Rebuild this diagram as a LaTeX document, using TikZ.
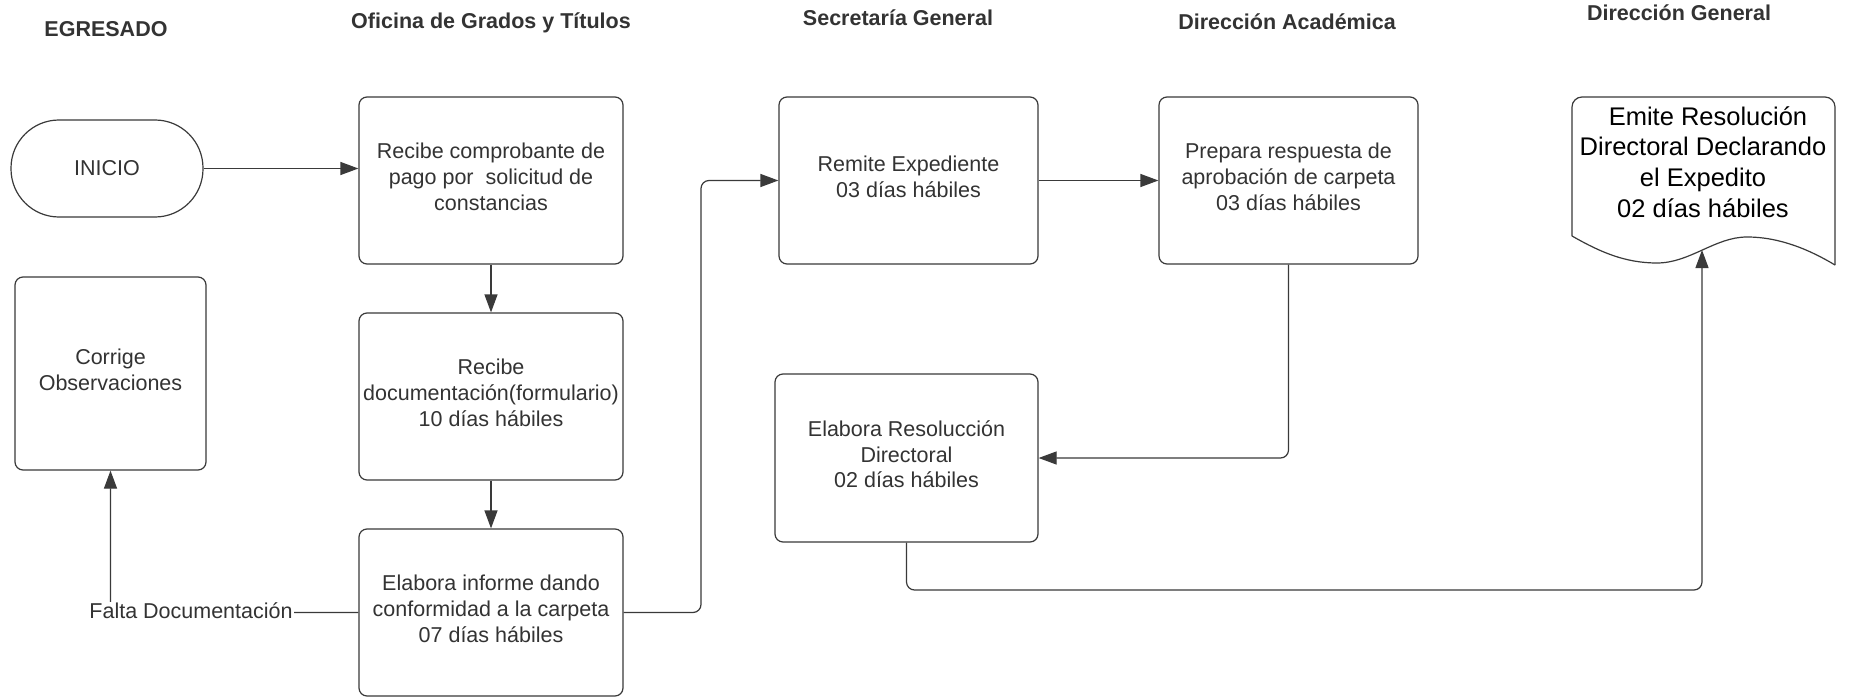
\documentclass[tikz,border=0pt]{standalone}
\usepackage{fontspec}
\setmainfont{Liberation Sans}
\usetikzlibrary{arrows.meta}
\definecolor{ink}{HTML}{333333}
\definecolor{edge}{HTML}{3A3A3A}
\begin{document}
\begin{tikzpicture}[x=1pt,y=-1pt,
  every node/.style={font=\fontsize{21.5}{25.8}\selectfont, text=ink},
  head/.style={anchor=base, font=\fontsize{21.5}{25.8}\selectfont\bfseries},
  proc/.style={draw=edge, line width=1.2pt, rounded corners=8pt, align=center, inner sep=0pt},
  procs/.style={proc, execute at end node=\strut},
  conn/.style={draw=edge, line width=1.2pt, rounded corners=8pt, -{Triangle[length=18pt,width=13pt]}},
  plain/.style={draw=edge, line width=1.2pt}
]
\useasboundingbox[fill=white] (0,0) rectangle (1850,698);

% headings
\node[head] (h1) at (106,37) {EGRESADO};
\node[head] (h2) at (491,29) {Oficina de Grados y Títulos};
\node[head] (h3) at (898,26) {Secretaría General};
\node[head] (h4) at (1287,30) {Dirección Académica};
\node[head] (h5) at (1679,21) {Dirección General};

% nodes
\node[proc, rounded corners=48pt, minimum width=192pt, minimum height=97pt] (inicio) at (107,168.5) {INICIO};
\node[procs, minimum width=264pt, minimum height=167pt] (box1) at (491,180.5) {Recibe comprobante de\\pago por\ \ solicitud de\\constancias};
\node[procs, minimum width=264pt, minimum height=167pt] (box2) at (491,396.5) {Recibe\\documentación(formulario)\\10 días hábiles};
\node[procs, minimum width=264pt, minimum height=167pt] (box3) at (491,612.5) {Elabora informe dando\\conformidad a la carpeta\\07 días hábiles};
\node[procs, minimum width=191pt, minimum height=193pt] (corrige) at (110.5,373.5) {Corrige\\Observaciones};
\node[procs, minimum width=259pt, minimum height=167pt] (remite) at (908.5,180.5) {Remite Expediente\\03 días hábiles};
\node[procs, minimum width=259pt, minimum height=167pt] (prepara) at (1288.5,180.5) {Prepara respuesta de\\aprobación de carpeta\\03 días hábiles};
\node[procs, minimum width=263pt, minimum height=168pt] (elabora) at (906.5,458) {Elabora Resolucción\\Directoral\\02 días hábiles};

% document shape
\draw[plain, rounded corners=10pt] (1572,236) -- (1572,97) -- (1835,97) -- (1835,265);
\draw[plain] (1572,236) .. controls (1600,252) and (1625,263) .. (1657,263)
  .. controls (1690,263) and (1715,237) .. (1747,237)
  .. controls (1780,237) and (1810,250) .. (1835,265);
\node[align=center, text=black, font=\fontsize{25.5}{30.6}\selectfont] (doc) at (1703,162) {\hspace*{10pt}Emite Resolución\\Directoral Declarando\\el Expedito\\02 días hábiles};

% junction coordinates
\coordinate (j1) at (701,612.5);
\coordinate (docin) at (1702,250);
\coordinate (bot) at (1702,590);

% connectors
\draw[conn] (inicio.east) -- (inicio.east -| box1.west);
\draw[conn] (box1.south) -- (box2.north);
\draw[conn] (box2.south) -- (box3.north);
\draw[conn] (box3.east) -- (j1) -- (j1 |- remite.west) -- (remite.west);
\draw[conn] (remite.east) -- (prepara.west);
\draw[conn] (prepara.south) |- (elabora.east);
\draw[conn] (elabora.south) -- (elabora.south |- bot) -- (bot) -- (docin);
\draw[conn] (box3.west) -| (corrige.south);
\node[fill=white, inner sep=1pt] (falta) at (191,611) {Falta Documentación};
\end{tikzpicture}
\end{document}
